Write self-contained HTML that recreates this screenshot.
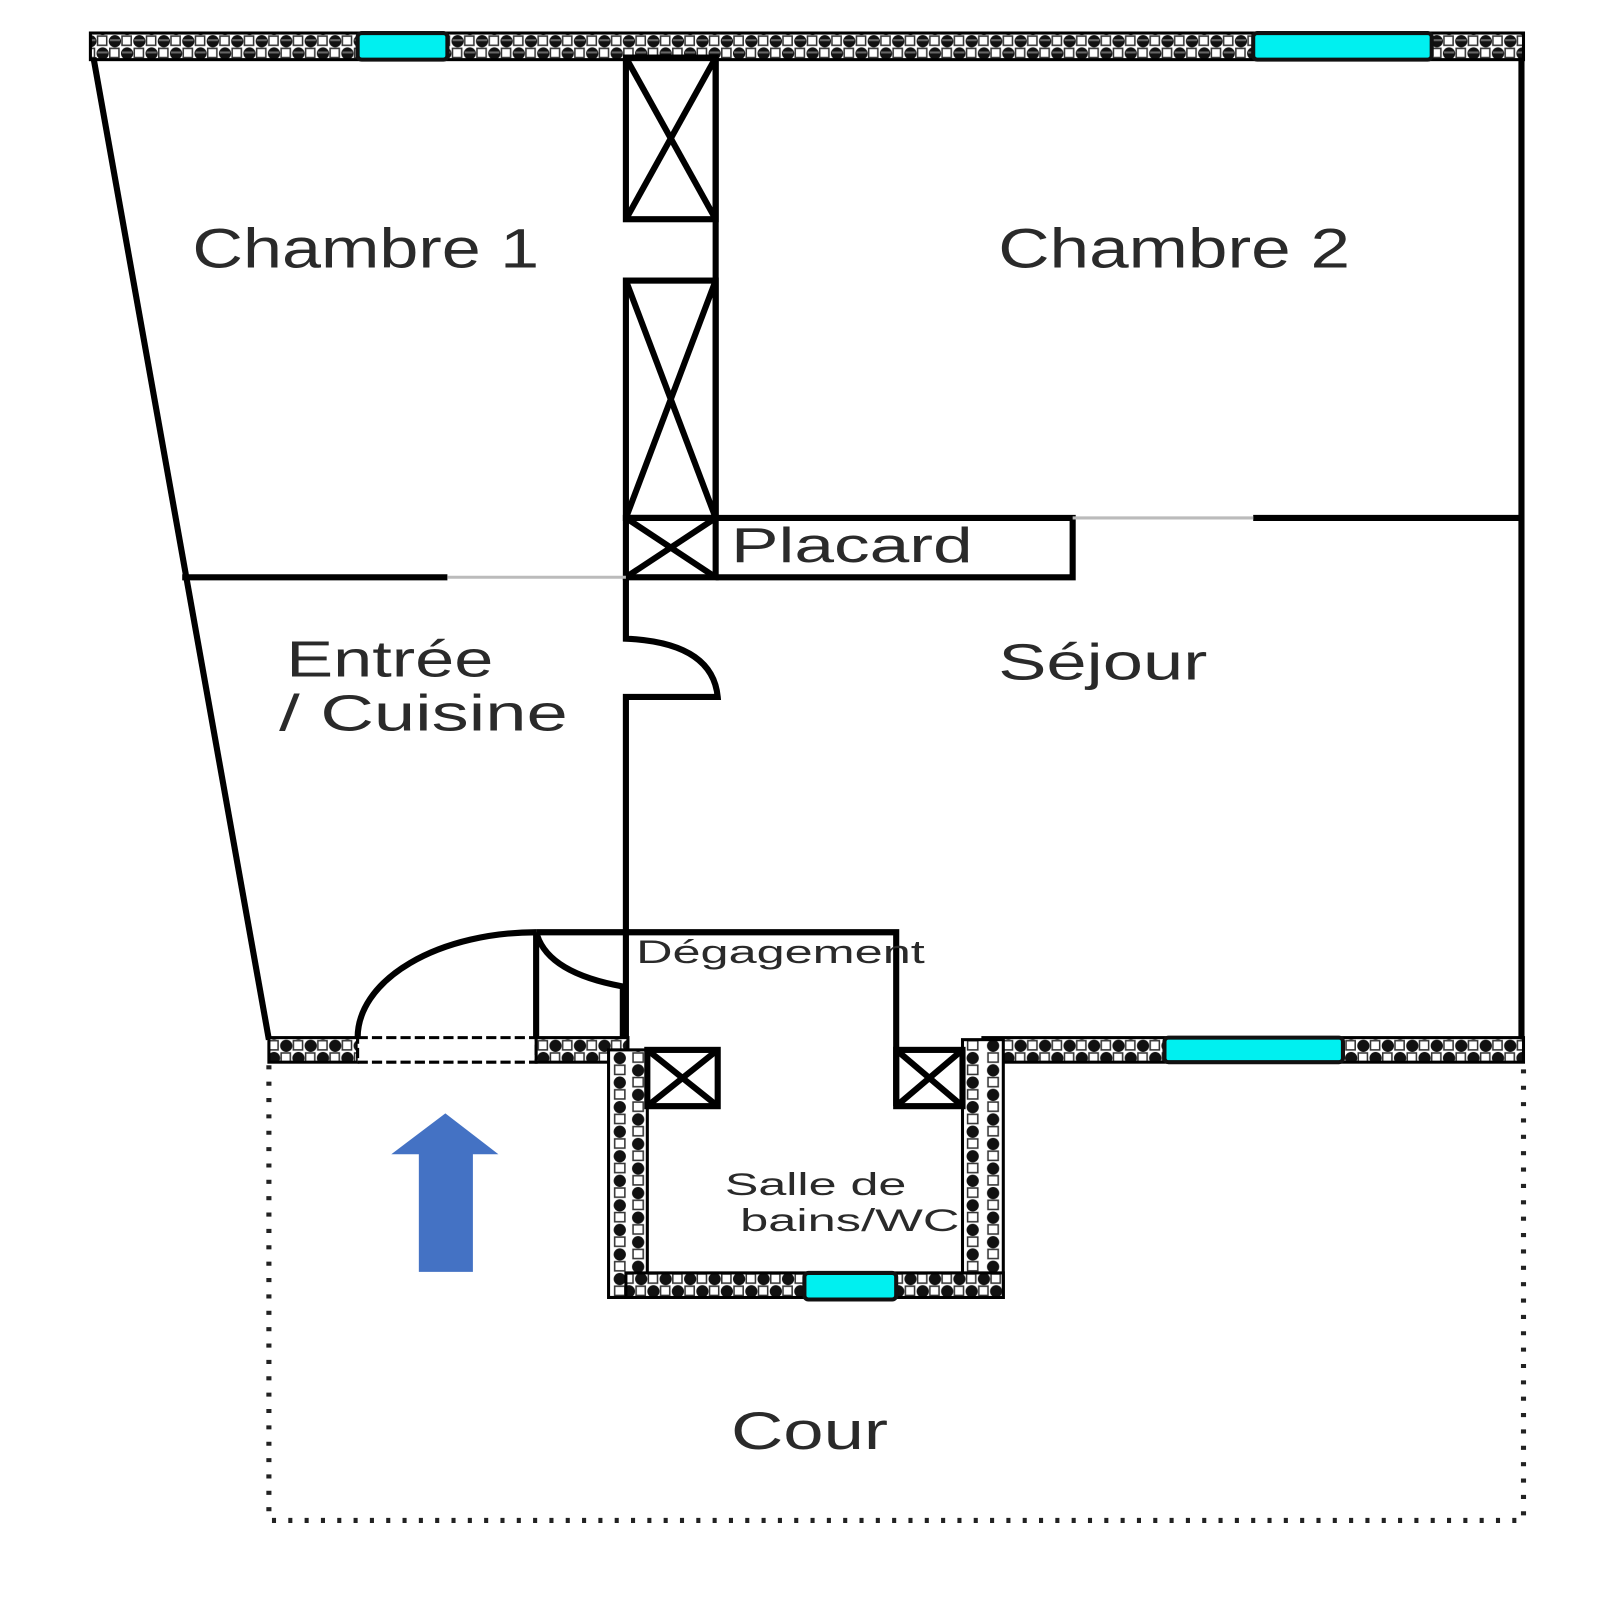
<!DOCTYPE html>
<html><head><meta charset="utf-8"><style>html,body{margin:0;padding:0;background:#fff}svg{display:block}</style></head>
<body>
<svg width="1600" height="1600" viewBox="0 0 1600 1600" xmlns="http://www.w3.org/2000/svg">
<defs>
<pattern id="w" width="24" height="24" patternUnits="userSpaceOnUse" y="38">
<rect width="24" height="24" fill="#fff"/>
<circle cx="18" cy="6" r="6" fill="#111"/>
<circle cx="6" cy="18" r="6" fill="#111"/>
<rect x="1" y="1" width="9" height="9" fill="#fff" stroke="#333" stroke-width="1.5"/>
<rect x="13" y="13" width="9" height="9" fill="#fff" stroke="#333" stroke-width="1.5"/>
<rect x="13" y="4" width="10" height="2" fill="#666"/>
<rect x="1" y="16" width="10" height="2" fill="#666"/>
</pattern>
<pattern id="wb" width="24" height="24" patternUnits="userSpaceOnUse" y="1020">
<rect width="24" height="24" fill="#fff"/>
<circle cx="18" cy="6" r="6" fill="#111"/>
<circle cx="6" cy="18" r="6" fill="#111"/>
<rect x="1" y="1" width="9" height="9" fill="#fff" stroke="#333" stroke-width="1.5"/>
<rect x="13" y="13" width="9" height="9" fill="#fff" stroke="#333" stroke-width="1.5"/>
</pattern>
<pattern id="wv" width="36" height="24" patternUnits="userSpaceOnUse" x="600">
<rect width="36" height="24" fill="#fff"/>
<circle cx="9" cy="6" r="6" fill="#111"/>
<circle cx="27" cy="18" r="6" fill="#111"/>
<rect x="4" y="13" width="10" height="9" fill="#fff" stroke="#333" stroke-width="1.5"/>
<rect x="22" y="1" width="10" height="9" fill="#fff" stroke="#333" stroke-width="1.5"/>
</pattern>
<pattern id="wv2" width="40" height="24" patternUnits="userSpaceOnUse" x="945">
<rect width="40" height="24" fill="#fff"/>
<circle cx="10" cy="6" r="6" fill="#111"/>
<circle cx="30" cy="18" r="6" fill="#111"/>
<rect x="5" y="13" width="10" height="9" fill="#fff" stroke="#333" stroke-width="1.5"/>
<rect x="25" y="1" width="10" height="9" fill="#fff" stroke="#333" stroke-width="1.5"/>
</pattern>
</defs>
<g transform="matrix(1.02,0,0,1.023,-1.4,-3.8)" font-family="'Liberation Sans',Arial,sans-serif" fill="#2a2a2a">
<rect x="90" y="36" width="1405" height="26" fill="url(#w)" stroke="#000" stroke-width="3"/>
<rect x="352" y="36" width="88" height="26" rx="4" fill="#00f0f0" stroke="#111" stroke-width="4"/>
<rect x="1230" y="36" width="175" height="26" rx="4" fill="#00f0f0" stroke="#111" stroke-width="4"/>
<g stroke="#000" stroke-width="6" fill="none">
<line x1="93" y1="60" x2="265" y2="1020"/>
<line x1="1493" y1="60" x2="1493" y2="1020"/>
</g>
<rect x="265" y="1018" width="87" height="24" fill="url(#wb)" stroke="#000" stroke-width="3"/>
<rect x="352" y="1018" width="175" height="24" fill="#fff" stroke="#000" stroke-width="3" stroke-dasharray="10 4"/>
<rect x="527" y="1018" width="90" height="24" fill="url(#wb)" stroke="#000" stroke-width="3"/>
<rect x="965" y="1018" width="530" height="24" fill="url(#wb)" stroke="#000" stroke-width="3"/>
<rect x="1143" y="1018" width="175" height="24" rx="4" fill="#00f0f0" stroke="#111" stroke-width="4"/>
<rect x="598" y="1030" width="38" height="242" fill="url(#wv)" stroke="#000" stroke-width="3"/>
<rect x="945" y="1020" width="40" height="252" fill="url(#wv2)" stroke="#000" stroke-width="3"/>
<rect x="615" y="1248" width="370" height="24" fill="url(#wb)" stroke="#000" stroke-width="3"/>
<rect x="790" y="1248" width="90" height="26" rx="4" fill="#00f0f0" stroke="#111" stroke-width="4"/>
<g stroke="#000" stroke-width="6" fill="none">
<rect x="615" y="60" width="88" height="158"/>
<line x1="615" y1="60" x2="703" y2="218"/><line x1="703" y1="60" x2="615" y2="218"/>
<rect x="615" y="278" width="88" height="232"/>
<line x1="615" y1="278" x2="703" y2="510"/><line x1="703" y1="278" x2="615" y2="510"/>
<rect x="615" y="510" width="88" height="58"/>
<line x1="615" y1="510" x2="703" y2="568"/><line x1="703" y1="510" x2="615" y2="568"/>
<line x1="703" y1="60" x2="703" y2="510"/>
<path d="M703 510 H1053 V568 H703"/>
<line x1="1230" y1="510" x2="1493" y2="510"/>
<line x1="180" y1="568" x2="440" y2="568"/>
<path d="M615 568 V628 Q700 632 705 685 H615 V915"/>
<path d="M527 915 H880 V1085"/>
<line x1="615" y1="915" x2="615" y2="1018"/>
<line x1="527" y1="915" x2="527" y2="1018"/>
<path d="M352 1018 A175 103 0 0 1 527 915"/>
<path d="M528 918 Q540 955 612 968 V1018"/>
<rect x="636" y="1030" width="69" height="55"/>
<line x1="636" y1="1030" x2="705" y2="1085"/><line x1="705" y1="1030" x2="636" y2="1085"/>
<rect x="880" y="1030" width="65" height="55"/>
<line x1="880" y1="1030" x2="945" y2="1085"/><line x1="945" y1="1030" x2="880" y2="1085"/>
</g>
<g stroke="#bbb" stroke-width="3">
<line x1="440" y1="568" x2="615" y2="568"/>
<line x1="1053" y1="510" x2="1230" y2="510"/>
</g>
<g stroke="#222" stroke-width="5" stroke-dasharray="4 12" fill="none">
<path d="M265 1045 V1490 H1495 V1045"/>
</g>
<path d="M412 1247 V1132 H385 L438 1092 L490 1132 H465 V1247 Z" fill="#4472c4"/>
<text x="190" y="265" font-size="54" textLength="340" lengthAdjust="spacingAndGlyphs">Chambre 1</text>
<text x="980" y="265" font-size="54" textLength="345" lengthAdjust="spacingAndGlyphs">Chambre 2</text>
<text x="718" y="553" font-size="48" textLength="237" lengthAdjust="spacingAndGlyphs">Placard</text>
<text x="282" y="665" font-size="50" textLength="203" lengthAdjust="spacingAndGlyphs">Entrée</text>
<text x="275" y="718" font-size="50" textLength="283" lengthAdjust="spacingAndGlyphs">/ Cuisine</text>
<text x="980" y="668" font-size="50" textLength="205" lengthAdjust="spacingAndGlyphs">Séjour</text>
<text x="625" y="945" font-size="32" textLength="283" lengthAdjust="spacingAndGlyphs">Dégagement</text>
<text x="712" y="1172" font-size="31" textLength="178" lengthAdjust="spacingAndGlyphs">Salle de</text>
<text x="727" y="1207" font-size="31" textLength="215" lengthAdjust="spacingAndGlyphs">bains/WC</text>
<text x="718" y="1420" font-size="52" textLength="154" lengthAdjust="spacingAndGlyphs">Cour</text>
</g>
</svg>
</body></html>
